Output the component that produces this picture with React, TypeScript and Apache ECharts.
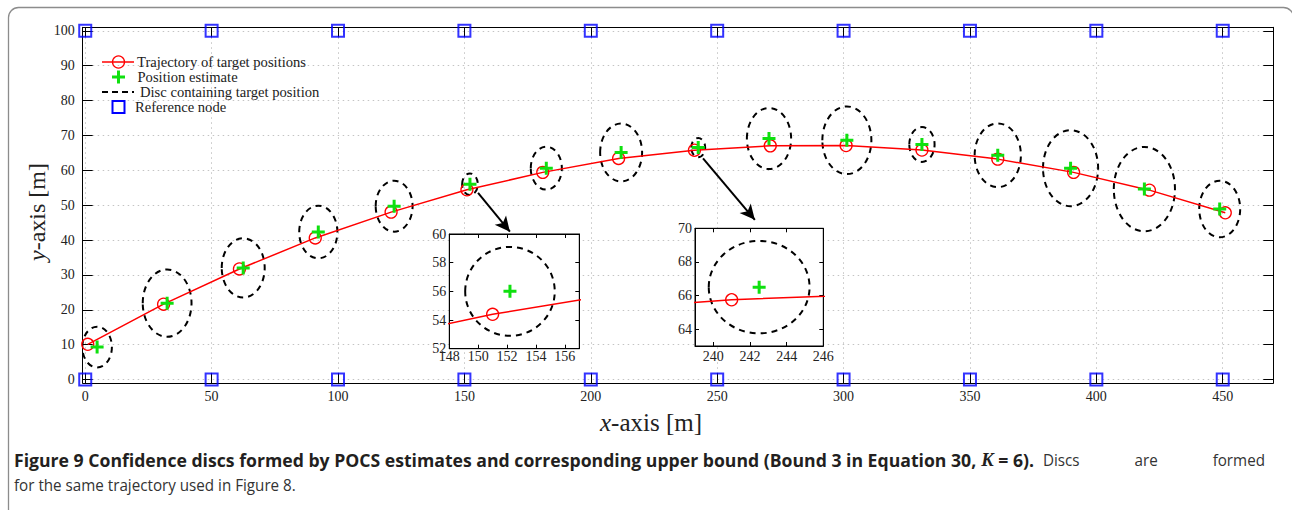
import React, { useEffect, useRef } from "react";
import * as echarts from "echarts";

// ---- data ----
const trajX = [1, 31, 61, 91, 121, 151, 181, 211, 241, 271, 301, 331, 361, 391, 421, 451];
const trajY = [10.1, 21.6, 31.7, 40.6, 48.0, 54.4, 59.4, 63.4, 65.75, 67.0, 67.1, 65.8, 63.2, 59.4, 54.3, 47.8];
const estX = [4.7, 32.4, 62.5, 92.2, 122.2, 152.2, 182.4, 212, 242.5, 270.5, 301.3, 331, 361, 389.8, 419, 448.8];
const estY = [9.3, 21.9, 32, 42.3, 49.7, 56, 60.6, 65.1, 66.5, 69.1, 68.6, 67.4, 64.3, 60.6, 54.6, 48.9];
const discR = [5.85, 9.65, 8.5, 7.55, 7.3, 3.1, 6.15, 8.3, 2.75, 8.75, 9.7, 5.0, 9.15, 10.9, 12.1, 8.1];
const nodeX = [0, 50, 100, 150, 200, 250, 300, 350, 400, 450];
const nodeY = [0, 100];
const xTicks = [0, 50, 100, 150, 200, 250, 300, 350, 400, 450];
const yTicks = [0, 10, 20, 30, 40, 50, 60, 70, 80, 90, 100];
const inset1XTicks = [148, 150, 152, 154, 156];
const inset1YTicks = [52, 54, 56, 58, 60];
const inset2XTicks = [240, 242, 244, 246];
const inset2YTicks = [64, 66, 68, 70];
const arrowLines = [
  [[155.4, 53.5], [168.0, 42.4]],
  [[244.4, 63.4], [264.9, 45.8]],
];
const legendLabels = [
  "Trajectory of target positions",
  "Position estimate",
  "Disc containing target position",
  "Reference node",
];
const captionBold = "Figure 9 Confidence discs formed by POCS estimates and corresponding upper bound (Bound 3 in Equation 30, ";
const captionBoldK = "K";
const captionBoldEnd = " = 6).";
const captionRegularWords = ["Discs", "are", "formed"];
const captionLine2 = "for the same trajectory used in Figure 8.";

const SERIF = "'Liberation Serif', 'Times New Roman', serif";
const SANS = "'Open Sans', 'Noto Sans', sans-serif";
const PLUS = "path://M5,0H8V5H13V8H8V13H5V8H0V5H5Z";
const GREEN = "#0fe00f";

function measure(text: string, font: string): number {
  const c = document.createElement("canvas").getContext("2d");
  if (!c) return text.length * 8;
  c.font = font;
  return c.measureText(text).width;
}

function trajData() {
  return trajX.map((x, i) => [x, trajY[i]]);
}
function estData() {
  return estX.map((x, i) => [x, estY[i]]);
}
function discData() {
  return estX.map((x, i) => [x, estY[i], discR[i]]);
}
function nodeData() {
  const out: number[][] = [];
  nodeY.forEach((y) => nodeX.forEach((x) => out.push([x, y])));
  return out;
}

function discRender(params: any, api: any) {
  const c = api.coord([api.value(0), api.value(1)]);
  const s = api.size([api.value(2), api.value(2)]);
  return {
    type: "ellipse",
    shape: { cx: c[0], cy: c[1], rx: s[0], ry: s[1] },
    style: { fill: "none", stroke: "#000", lineWidth: 2, lineDash: [6, 5] },
  };
}

function axisDef(grid: number, pos: string, min: number, max: number, ticks: number[], opts: any) {
  return {
    type: "value",
    gridIndex: grid,
    position: pos,
    min,
    max,
    z: opts.z ?? 1,
    axisLine: { show: true, onZero: false, lineStyle: { color: "#000", width: 1 } },
    axisTick: { show: true, inside: true, length: opts.tickLen, customValues: ticks, lineStyle: { color: "#000" } },
    axisLabel: {
      show: !!opts.labels,
      customValues: ticks,
      color: "#222",
      fontFamily: SERIF,
      fontSize: opts.fontSize ?? 14,
      margin: opts.margin ?? 6,
    },
    splitLine: opts.split
      ? { show: true, lineStyle: { type: [1.5, 3.5], color: "#c4c4c4", width: 1 } }
      : { show: false },
  };
}

export default function App() {
  const ref = useRef<HTMLDivElement>(null);
  useEffect(() => {
    if (!ref.current) return;
    const chart = echarts.init(ref.current, undefined, { renderer: "svg" });

    // caption: condensed fonts, line 1 justified to the right margin
    const capSize = 17;
    const boldFont = `bold ${capSize}px ${SANS}`;
    const kFont = `italic bold ${capSize + 1}px ${SERIF}`;
    const regFont = `${capSize}px ${SANS}`;
    const bw = measure(captionBold, boldFont) + measure(captionBoldK, kFont) + measure(captionBoldEnd, boldFont);
    const sb = 1020 / bw;
    const sr = 282 / measure(captionLine2, regFont);
    const kX = 14 + measure(captionBold, boldFont) * sb;
    const endX = kX + measure(captionBoldK, kFont) * sb;
    const regWidths = captionRegularWords.map((w) => measure(w, regFont) * sr);
    const regStart = 1043;
    const regEnd = 1265;
    const regGap = (regEnd - regStart - regWidths.reduce((a, b) => a + b, 0)) / (captionRegularWords.length - 1);
    let rx = regStart;
    const captionEls: any[] = [
      { type: "text", x: 14, y: 460, scaleX: sb, z: 10, style: { text: captionBold, font: boldFont, fill: "#231f20", align: "left", verticalAlign: "middle" } },
      { type: "text", x: kX, y: 460, scaleX: sb, z: 10, style: { text: captionBoldK, font: kFont, fill: "#231f20", align: "left", verticalAlign: "middle" } },
      { type: "text", x: endX, y: 460, scaleX: sb, z: 10, style: { text: captionBoldEnd, font: boldFont, fill: "#231f20", align: "left", verticalAlign: "middle" } },
      ...captionRegularWords.map((w, i) => {
        const el = { type: "text", x: rx, y: 460, scaleX: sr, z: 10, style: { text: w, font: regFont, fill: "#333", align: "left", verticalAlign: "middle" } };
        rx += regWidths[i] + regGap;
        return el;
      }),
      { type: "text", x: 14, y: 485, scaleX: sr, z: 10, style: { text: captionLine2, fill: "#333", font: regFont, verticalAlign: "middle", align: "left" } },
    ];

    const grids = [
      { left: 82.7, top: 27.3, width: 1190.6, height: 355.7, show: false, outerBoundsMode: "none", containLabel: false },
      { left: 449.3, top: 234, width: 130, height: 114.7, show: true, backgroundColor: "#fff", borderColor: "#000", borderWidth: 1, z: 3, outerBoundsMode: "none", containLabel: false },
      { left: 695, top: 228.3, width: 128.3, height: 117.7, show: true, backgroundColor: "#fff", borderColor: "#000", borderWidth: 1, z: 3, outerBoundsMode: "none", containLabel: false },
    ];

    const xAxes = [
      axisDef(0, "bottom", -1, 470, xTicks, { tickLen: 10, labels: true, split: true, margin: 6 }),
      axisDef(0, "top", -1, 470, xTicks, { tickLen: 10 }),
      axisDef(1, "bottom", 148, 157, inset1XTicks, { tickLen: 4, labels: true, margin: 1, z: 4 }),
      axisDef(1, "top", 148, 157, inset1XTicks, { tickLen: 4, z: 4 }),
      axisDef(2, "bottom", 239, 246, inset2XTicks, { tickLen: 4, labels: true, margin: 3, z: 4 }),
      axisDef(2, "top", 239, 246, inset2XTicks, { tickLen: 4, z: 4 }),
    ];
    const yAxes = [
      axisDef(0, "left", -1, 101, yTicks, { tickLen: 10, labels: true, split: true, margin: 8 }),
      axisDef(0, "right", -1, 101, yTicks, { tickLen: 10 }),
      axisDef(1, "left", 52, 60, inset1YTicks, { tickLen: 4, labels: true, margin: 3, z: 4 }),
      axisDef(1, "right", 52, 60, inset1YTicks, { tickLen: 4, z: 4 }),
      axisDef(2, "left", 63, 70, inset2YTicks, { tickLen: 4, labels: true, margin: 3, z: 4 }),
      axisDef(2, "right", 63, 70, inset2YTicks, { tickLen: 4, z: 4 }),
    ];

    const trajSeries = (xi: number, yi: number, z: number, extra: any = {}) => ({
      type: "line",
      xAxisIndex: xi,
      yAxisIndex: yi,
      data: trajData(),
      symbol: "circle",
      symbolSize: 12,
      showAllSymbol: true,
      clip: true,
      silent: true,
      z,
      itemStyle: { color: "rgba(0,0,0,0)", borderColor: "#ff0000", borderWidth: 1.3 },
      lineStyle: { color: "#ff0000", width: 1.5 },
      emphasis: { disabled: true },
      ...extra,
    });
    const discSeries = (xi: number, yi: number, z: number) => ({
      type: "custom",
      xAxisIndex: xi,
      yAxisIndex: yi,
      data: discData(),
      renderItem: discRender,
      clip: true,
      silent: true,
      z,
    });
    const estSeries = (xi: number, yi: number, z: number) => ({
      type: "scatter",
      xAxisIndex: xi,
      yAxisIndex: yi,
      data: estData(),
      symbol: PLUS,
      symbolSize: 13,
      clip: true,
      silent: true,
      z,
      itemStyle: { color: GREEN, opacity: 1 },
      emphasis: { disabled: true },
    });

    const legendX = 102;
    const legendRows = [62, 77, 92, 107];
    const legendTextX = [137, 137.5, 140, 135];

    const graphic: any[] = [
      {
        type: "rect",
        shape: { x: 8.5, y: 7.5, width: 1285, height: 560, r: 10 },
        style: { fill: "none", stroke: "#8c8c8c", lineWidth: 1.3 },
        silent: true,
        z: 0,
      },
      // legend
      { type: "line", shape: { x1: legendX, y1: legendRows[0], x2: legendX + 32, y2: legendRows[0] }, style: { stroke: "#ff0000", lineWidth: 1.5 }, z: 10 },
      { type: "circle", shape: { cx: 118.5, cy: legendRows[0], r: 6 }, style: { fill: "none", stroke: "#ff0000", lineWidth: 1.3 }, z: 10 },
      { type: "rect", shape: { x: 112, y: legendRows[1] - 1.5, width: 13, height: 3 }, style: { fill: GREEN }, z: 10 },
      { type: "rect", shape: { x: 117, y: legendRows[1] - 6.5, width: 3, height: 13 }, style: { fill: GREEN }, z: 10 },
      { type: "line", shape: { x1: legendX, y1: legendRows[2], x2: legendX + 32, y2: legendRows[2] }, style: { stroke: "#000", lineWidth: 2, lineDash: [6, 4] }, z: 10 },
      { type: "rect", shape: { x: 112.5, y: legendRows[3] - 6, width: 12, height: 12 }, style: { fill: "none", stroke: "#0000ff", lineWidth: 2 }, z: 10 },
      ...legendLabels.map((t, i) => ({
        type: "text",
        x: legendTextX[i],
        y: legendRows[i],
        z: 10,
        style: { text: t, fill: "#222", font: `14.6px ${SERIF}`, align: "left", verticalAlign: "middle" },
      })),
      // axis titles
      {
        type: "text",
        x: 651,
        y: 422,
        z: 10,
        style: {
          text: "{i|x}-axis [m]",
          fill: "#222",
          font: `25px ${SERIF}`,
          align: "center",
          verticalAlign: "middle",
          rich: { i: { fontStyle: "italic", fontSize: 25, fontFamily: SERIF } },
        },
      },
      {
        type: "text",
        x: 37,
        y: 212,
        rotation: Math.PI / 2,
        z: 10,
        style: {
          text: "{i|y}-axis [m]",
          fill: "#222",
          font: `24px ${SERIF}`,
          align: "center",
          verticalAlign: "middle",
          rich: { i: { fontStyle: "italic", fontSize: 24, fontFamily: SERIF } },
        },
      },
      ...captionEls,
    ];

    chart.setOption({
      animation: false,
      backgroundColor: "#fff",
      grid: grids,
      xAxis: xAxes,
      yAxis: yAxes,
      graphic,
      series: [
        trajSeries(0, 0, 3, {
          markLine: {
            silent: true,
            symbol: ["none", "arrow"],
            symbolSize: [11, 15],
            label: { show: false },
            lineStyle: { color: "#000", width: 2, type: "solid" },
            emphasis: { disabled: true },
            data: arrowLines.map((a) => [{ coord: a[0] }, { coord: a[1] }]),
          },
        }),
        discSeries(0, 0, 2),
        estSeries(0, 0, 4),
        {
          type: "scatter",
          xAxisIndex: 0,
          yAxisIndex: 0,
          data: nodeData(),
          symbol: "rect",
          symbolSize: 12,
          clip: false,
          silent: true,
          z: 4,
          itemStyle: { color: "rgba(0,0,0,0)", borderColor: "#0000ff", borderWidth: 2 },
          emphasis: { disabled: true },
        },
        trajSeries(2, 2, 6),
        discSeries(2, 2, 6),
        estSeries(2, 2, 7),
        trajSeries(4, 4, 6),
        discSeries(4, 4, 6),
        estSeries(4, 4, 7),
      ],
    });
    return () => chart.dispose();
  }, []);
  return <div ref={ref} style={{ position: "fixed", left: 0, top: 0, width: 1292, height: 510 }} />;
}
